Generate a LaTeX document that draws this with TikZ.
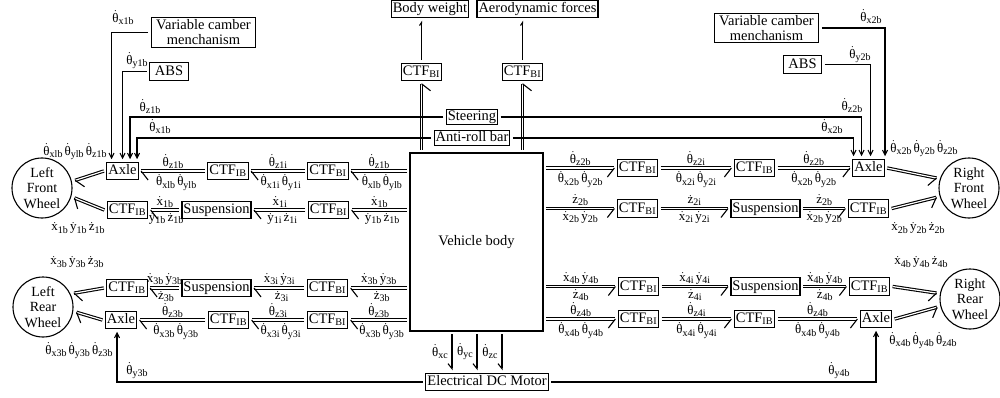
\documentclass[tikz,border=0pt]{standalone}
\usepackage{fontspec}
\setmainfont{Liberation Serif}
\usetikzlibrary{arrows.meta,decorations.markings,calc}
\newcommand\mythd[1]{$\dot{\mbox{θ}}$\raisebox{-0.35ex}{\fontsize{10}{10}\selectfont #1}}
\newcommand\myxd[1]{$\dot{\mbox{x}}$\raisebox{-0.35ex}{\fontsize{10}{10}\selectfont #1}}
\newcommand\myyd[1]{$\dot{\mbox{y}}$\raisebox{-0.35ex}{\fontsize{10}{10}\selectfont #1}}
\newcommand\myzd[1]{$\dot{\mbox{z}}$\raisebox{-0.35ex}{\fontsize{10}{10}\selectfont #1}}
\newcommand\ctfbi{CTF$_{\mathrm{BI}}$}
\newcommand\ctfib{CTF$_{\mathrm{IB}}$}
\tikzset{
  every node/.style={font=\fontsize{14.5}{15}\selectfont},
  box/.style={draw, line width=1.1pt, inner xsep=1.5pt, inner ysep=2pt, text height=10.5pt, text depth=3pt, outer sep=3pt},
  thinbox/.style={box, inner ysep=0.5pt},
  wheel/.style={draw, circle, line width=1.1pt, minimum size=60pt, inner sep=0pt, align=center, font=\fontsize{14}{15.5}\selectfont, outer sep=4pt},
  lab/.style={font=\fontsize{13}{14}\selectfont, inner sep=1pt},
  la/.style={lab, midway, above, inner sep=2pt},
  lb/.style={lab, midway, below, inner sep=2.5pt},
  lbl/.style={lab, pos=0.45, below, inner sep=2.5pt},
  dl/.style={draw, double, double distance=1.2pt, line width=1.1pt},
  hl/.style={dl, decoration={markings, mark=at position 1 with {\pgfsetlinewidth{1.1pt}\pgfpathmoveto{\pgfpointorigin}\pgfpathlineto{\pgfpoint{-7pt}{9pt}}\pgfusepath{stroke}}}, postaction={decorate}},
  hr/.style={dl, decoration={markings, mark=at position 1 with {\pgfsetlinewidth{1.1pt}\pgfpathmoveto{\pgfpointorigin}\pgfpathlineto{\pgfpoint{-7pt}{-9pt}}\pgfusepath{stroke}}}, postaction={decorate}},
  sa/.style={draw, line width=1.1pt, -{Straight Barb[length=5pt,width=5pt]}},
  ha/.style={draw, line width=1.1pt, -{Straight Barb[harpoon,swap,length=5pt,width=8pt]}},
  hs/.style={draw, line width=1.1pt, -{Straight Barb[harpoon,length=3pt,width=4pt]}},
}
\begin{document}
\begin{tikzpicture}[x=1pt,y=-1pt]
\useasboundingbox (0,0) rectangle (1000,398);
% top boxes
\node[box] (bw) at (430,9) {Body weight};
\node[box] (af) at (537.5,9) {Aerodynamic forces};
\node[box] (cbt1) at (421.5,72) {\ctfbi};
\node[box] (cbt2) at (522.5,72) {\ctfbi};
\node[thinbox] (steer) at (472,117) {Steering};
\node[thinbox] (arb) at (472,138) {Anti-roll bar};
\node[draw, line width=1.1pt, align=center, inner xsep=5pt, inner ysep=2pt, outer sep=3pt] (vcl) at (203.5,32.5) {Variable camber\\menchanism};
\node[box, inner xsep=5pt] (absl) at (169,71.5) {ABS};
\node[draw, line width=1.1pt, align=center, inner xsep=5pt, inner ysep=2pt, outer sep=3pt] (vcr) at (766.5,28) {Variable camber\\menchanism};
\node[box, inner xsep=5pt] (absr) at (802.5,64.5) {ABS};
% body and motor
\node[draw, line width=1.1pt, minimum width=133pt, minimum height=178pt, inner sep=0pt, outer sep=3pt] (body) at (476.5,242) {Vehicle body};
\node[box] (motor) at (487,382) {Electrical DC Motor};
% left side
\node[wheel] (lfw) at (42,188) {Left\\Front\\Wheel};
\node[box] (laxf) at (122.5,171) {Axle};
\node[box] (libf) at (228,171) {\ctfib};
\node[box] (lbif) at (328,171) {\ctfbi};
\node[box] (libf2) at (127.5,210) {\ctfib};
\node[box] (lsusf) at (216.5,210) {Suspension};
\node[box] (lbif2) at (328.5,210) {\ctfbi};
\node[wheel] (lrw) at (43,307) {Left\\Rear\\Wheel};
\node[box] (librr) at (127,288) {\ctfib};
\node[box] (lsusr) at (216.5,288) {Suspension};
\node[box] (lbir) at (327.5,288) {\ctfbi};
\node[box] (laxr) at (121,320) {Axle};
\node[box] (librr2) at (228.5,320) {\ctfib};
\node[box] (lbir2) at (327.5,320) {\ctfbi};
% right side
\node[wheel] (rfw) at (969,188) {Right\\Front\\Wheel};
\node[box] (rbif) at (637.5,168) {\ctfbi};
\node[box] (ribf) at (754.5,168) {\ctfib};
\node[box] (raxf) at (868.5,168) {Axle};
\node[box] (rbif2) at (637.5,208.5) {\ctfbi};
\node[box] (rsusf) at (765.5,208.5) {Suspension};
\node[box] (ribf2) at (868.5,208.5) {\ctfib};
\node[wheel] (rrw) at (970,299) {Right\\Rear\\Wheel};
\node[box] (rbir) at (638.5,286.5) {\ctfbi};
\node[box] (rsusr) at (765.5,286.5) {Suspension};
\node[box] (ribr) at (869.5,286.5) {\ctfib};
\node[box] (rbir2) at (638.5,319) {\ctfbi};
\node[box] (ribr2) at (754.5,319) {\ctfib};
\node[box] (raxr) at (876,319) {Axle};
% vertical links at top
\draw[hr] (body.north -| cbt1.south) -- (cbt1.south);
\draw[hr] (body.north -| cbt2.south) -- (cbt2.south);
\draw[hs] (cbt1.north) -- (cbt1.north |- bw.south);
\draw[hs] (cbt2.north) -- (cbt2.north |- af.south);
% inputs to left front axle
\draw[sa] (vcl.west) -| ([xshift=-11pt]laxf.north);
\draw[sa] (absl.west) -| (laxf.north);
\draw[sa] (steer.west) -| ([xshift=7.5pt]laxf.north);
\draw[sa] (arb.west) -| ([xshift=14.5pt]laxf.north);
\node[lab] at (123,18) {\mythd{x1b}};
\node[lab] at (137,61) {\mythd{y1b}};
\node[lab] at (150,107) {\mythd{z1b}};
\node[lab] at (160,127) {\mythd{x1b}};
% inputs to right front axle
\draw[sa] (vcr.east) -| ([xshift=16.5pt]raxf.north);
\draw[sa] (absr.east) -| ([xshift=2pt]raxf.north);
\draw[sa] (steer.east) -| ([xshift=-7pt]raxf.north);
\draw[sa] (arb.east) -| ([xshift=-15pt]raxf.north);
\node[lab] at (871,17) {\mythd{x2b}};
\node[lab] at (860,55) {\mythd{y2b}};
\node[lab] at (852,106) {\mythd{z2b}};
\node[lab] at (832,127) {\mythd{x2b}};
% motor
\draw[ha] ([xshift=-24.5pt]body.south) -- ([xshift=-24.5pt]body.south |- motor.north);
\draw[ha] ([xshift=0.5pt]body.south) -- ([xshift=0.5pt]body.south |- motor.north);
\draw[ha] ([xshift=25.5pt]body.south) -- ([xshift=25.5pt]body.south |- motor.north);
\node[lab] at (440,352) {\mythd{xc}};
\node[lab] at (465,352) {\mythd{yc}};
\node[lab] at (490,352) {\mythd{zc}};
\draw[sa] (motor.west) -| ([xshift=-4pt]laxr.south);
\draw[sa] (motor.east) -| (raxr.south);
\node[lab] at (137,371) {\mythd{y3b}};
\node[lab] at (839,371) {\mythd{y4b}};
% left front rows
\draw[hl] (body.west |- lbif.east) -- (lbif.east) node[la]{\mythd{z1b}} node[lbl]{\mythd{xlb}\,\mythd{ylb}};
\draw[hl] (lbif.west) -- (libf.east) node[la]{\mythd{z1i}} node[lbl]{\mythd{x1i}\,\mythd{y1i}};
\draw[hl] (libf.west) -- (laxf.east) node[la]{\mythd{z1b}} node[lbl]{\mythd{xlb}\,\mythd{ylb}};
\draw[hl] (laxf.west) -- (lfw.13);
\node[lab] at (75,152) {\mythd{xlb}\,\mythd{ylb}\,\mythd{z1b}};
\draw[hl] (body.west |- lbif2.east) -- (lbif2.east) node[la]{\myxd{1b}} node[lbl]{\myyd{1b}\,\myzd{1b}};
\draw[hl] (lbif2.west) -- (lsusf.east) node[la]{\myxd{1i}} node[lbl]{\myyd{1i}\,\myzd{1i}};
\draw[hl] (lsusf.west) -- (libf2.east) node[la]{\myxd{1b}} node[lbl]{\myyd{1b}\,\myzd{1b}};
\draw[hl] (libf2.west) -- (lfw.-17);
\node[lab] at (78,228) {\myxd{1b}\,\myyd{1b}\,\myzd{1b}};
% left rear rows
\draw[hl] (body.west |- lbir.east) -- (lbir.east) node[la]{\myxd{3b}\,\myyd{3b}} node[lbl]{\myzd{3b}};
\draw[hl] (lbir.west) -- (lsusr.east) node[la]{\myxd{3i}\,\myyd{3i}} node[lbl]{\myzd{3i}};
\draw[hl] (lsusr.west) -- (librr.east) node[la]{\myxd{3b}\,\myyd{3b}} node[lbl]{\myzd{3b}};
\draw[hl] (librr.west) -- (lrw.24);
\node[lab] at (77,262) {\myxd{3b}\,\myyd{3b}\,\myzd{3b}};
\draw[hl] (body.west |- lbir2.east) -- (lbir2.east) node[la]{\mythd{z3b}} node[lbl]{\mythd{x3b}\,\mythd{y3b}};
\draw[hl] (lbir2.west) -- (librr2.east) node[la]{\mythd{z3i}} node[lbl]{\mythd{x3i}\,\mythd{y3i}};
\draw[hl] (librr2.west) -- (laxr.east) node[la]{\mythd{z3b}} node[lbl]{\mythd{x3b}\,\mythd{y3b}};
\draw[hl] (laxr.west) -- (lrw.-9);
\node[lab] at (79,351) {\mythd{x3b}\,\mythd{y3b}\,\mythd{z3b}};
% right front rows
\draw[hr] (body.east |- rbif.west) -- (rbif.west) node[la]{\mythd{z2b}} node[lb]{\mythd{x2b}\,\mythd{y2b}};
\draw[hr] (rbif.east) -- (ribf.west) node[la]{\mythd{z2i}} node[lb]{\mythd{x2i}\,\mythd{y2i}};
\draw[hr] (ribf.east) -- (raxf.west) node[la]{\mythd{z2b}} node[lb]{\mythd{x2b}\,\mythd{y2b}};
\draw[hr] (raxf.east) -- (rfw.163);
\node[lab] at (924,149) {\mythd{x2b}\,\mythd{y2b}\,\mythd{z2b}};
\draw[hr] (body.east |- rbif2.west) -- (rbif2.west) node[la]{\myzd{2b}} node[lb]{\myxd{2b}\,\myyd{2b}};
\draw[hr] (rbif2.east) -- (rsusf.west) node[la]{\myzd{2i}} node[lb]{\myxd{2i}\,\myyd{2i}};
\draw[hr] (rsusf.east) -- (ribf2.west) node[la]{\myzd{2b}} node[lb]{\myxd{2b}\,\myyd{2b}};
\draw[hr] (ribf2.east) -- (rfw.196);
\node[lab] at (918,228) {\myxd{2b}\,\myyd{2b}\,\myzd{2b}};
% right rear rows
\draw[hr] (body.east |- rbir.west) -- (rbir.west) node[la]{\myxd{4b}\,\myyd{4b}} node[lb]{\myzd{4b}};
\draw[hr] (rbir.east) -- (rsusr.west) node[la]{\myxd{4i}\,\myyd{4i}} node[lb]{\myzd{4i}};
\draw[hr] (rsusr.east) -- (ribr.west) node[la]{\myxd{4b}\,\myyd{4b}} node[lb]{\myzd{4b}};
\draw[hr] (ribr.east) -- (rrw.170);
\node[lab] at (921,262) {\myxd{4b}\,\myyd{4b}\,\myzd{4b}};
\draw[hr] (body.east |- rbir2.west) -- (rbir2.west) node[la]{\mythd{z4b}} node[lb]{\mythd{x4b}\,\mythd{y4b}};
\draw[hr] (rbir2.east) -- (ribr2.west) node[la]{\mythd{z4i}} node[lb]{\mythd{x4i}\,\mythd{y4i}};
\draw[hr] (ribr2.east) -- (raxr.west) node[la]{\mythd{z4b}} node[lb]{\mythd{x4b}\,\mythd{y4b}};
\draw[hr] (raxr.east) -- (rrw.194);
\node[lab] at (923,341) {\mythd{x4b}\,\mythd{y4b}\,\mythd{z4b}};
\end{tikzpicture}
\end{document}
